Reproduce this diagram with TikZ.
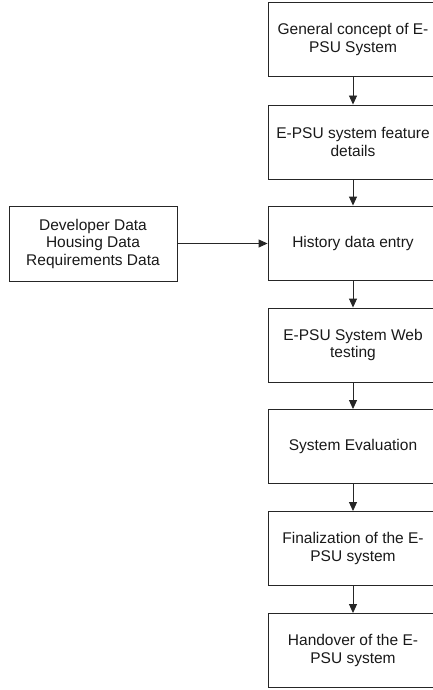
\documentclass[tikz,border=0pt]{standalone}
\usepackage{fontspec}
\setmainfont{Liberation Sans}
\usetikzlibrary{arrows.meta}
\begin{document}
\begin{tikzpicture}[x=1pt,y=-1pt,
  box/.style={draw=black!85, line width=0.9pt, minimum width=170pt, minimum height=74pt,
    inner sep=0pt, align=center, font=\fontsize{15.5}{17.5}\selectfont, text=black!90},
  arr/.style={draw=black!85, line width=0.9pt, -{Triangle[length=9pt,width=8pt]}}]
\useasboundingbox (0,0) rectangle (433,690);
\node[box] (b1) at (353,39.5) {General concept of E-\\PSU System};
\node[box] (b2) at (353,142) {E-PSU system feature\\details};
\node[box] (b3) at (353,243) {History data entry};
\node[box] (b4) at (353,345) {E-PSU System Web\\testing};
\node[box] (b5) at (353,446.5) {System Evaluation};
\node[box] (b6) at (353,548.5) {Finalization of the E-\\PSU system};
\node[box] (b7) at (353,650.5) {Handover of the E-\\PSU system};
\node[box, minimum width=168pt, minimum height=75pt] (l) at (93,243.5) {Developer Data\\Housing Data\\Requirements Data};
\draw[arr] (b1) -- (b2);
\draw[arr] (b2) -- (b3);
\draw[arr] (b3) -- (b4);
\draw[arr] (b4) -- (b5);
\draw[arr] (b5) -- (b6);
\draw[arr] (b6) -- (b7);
\draw[arr] (l.east) -- (l.east -| b3.west);
\end{tikzpicture}
\end{document}
